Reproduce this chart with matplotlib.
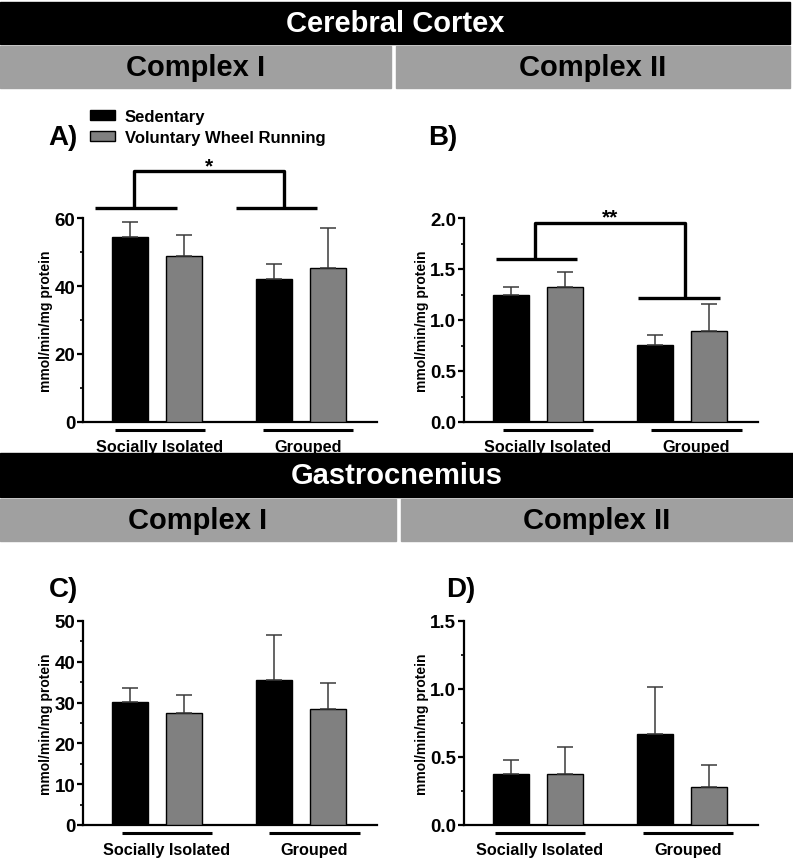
import matplotlib
matplotlib.use("Agg")
import matplotlib.pyplot as plt
from matplotlib.patches import Rectangle, Patch
from matplotlib.ticker import AutoMinorLocator, FormatStrFormatter

plt.rcParams['font.family'] = ['Liberation Sans', 'DejaVu Sans']
plt.rcParams['font.weight'] = 'bold'

groups = ['Socially Isolated', 'Grouped']
series = ['Sedentary', 'Voluntary Wheel Running']

# means and upper SD for each panel: [Isolated, Grouped]
a_sed = [54.4, 42.0]
a_run = [48.8, 45.2]
a_sed_err = [4.5, 4.6]
a_run_err = [6.3, 11.8]

b_sed = [1.25, 0.755]
b_run = [1.32, 0.889]
b_sed_err = [0.075, 0.10]
b_run_err = [0.154, 0.265]

c_sed = [30.2, 35.6]
c_run = [27.4, 28.4]
c_sed_err = [3.5, 11.0]
c_run_err = [4.5, 6.3]

d_sed = [0.375, 0.667]
d_run = [0.378, 0.279]
d_sed_err = [0.103, 0.348]
d_run_err = [0.196, 0.160]

W, H = 793, 862
fig = plt.figure(figsize=(W / 100, H / 100), dpi=100)


def fx(x):
    return x / W


def fy(y):
    return 1 - y / H


def band(x0, x1, y0, y1, color, text, tcolor):
    fig.patches.append(Rectangle((fx(x0), fy(y1)), fx(x1 - x0), (y1 - y0) / H,
                                 transform=fig.transFigure, color=color, zorder=0))
    fig.text(fx((x0 + x1) / 2), fy((y0 + y1) / 2), text, color=tcolor,
             fontsize=21, fontweight='bold', ha='center', va='center')


band(0, 790, 3, 45, 'black', 'Cerebral Cortex', 'white')
band(0, 391, 47, 89, '#a0a0a0', 'Complex I', 'black')
band(396, 790, 47, 89, '#a0a0a0', 'Complex II', 'black')
band(0, 793, 454, 498, 'black', 'Gastrocnemius', 'white')
band(0, 396, 500, 542, '#a0a0a0', 'Complex I', 'black')
band(401, 793, 500, 542, '#a0a0a0', 'Complex II', 'black')

xpos_sed = [0, 4.0]
xpos_run = [1.5, 5.5]


def panel(left, bottom, top, sed, run, sed_err, run_err, ymax, major, lines, letter, lpos):
    ax = fig.add_axes([fx(left), fy(bottom), fx(294), (bottom - top) / H])
    ekw = dict(ecolor='#3a3a3a', elinewidth=1.1, capsize=6, capthick=1.1)
    ax.bar(xpos_sed, sed, width=1, color='black', edgecolor='black', linewidth=1,
           yerr=[[0, 0], sed_err], error_kw=ekw, zorder=3)
    ax.bar(xpos_run, run, width=1, color='#808080', edgecolor='black', linewidth=1,
           yerr=[[0, 0], run_err], error_kw=ekw, zorder=3)
    ax.set_xlim(-1.3, 6.86)
    ax.set_ylim(0, ymax)
    ax.set_yticks([i * major for i in range(int(round(ymax / major)) + 1)])
    ax.yaxis.set_minor_locator(AutoMinorLocator(2))
    for s in ['top', 'right']:
        ax.spines[s].set_visible(False)
    for s in ['left', 'bottom']:
        ax.spines[s].set_linewidth(1.6)
    ax.set_xticks([])
    ax.tick_params(axis='y', which='major', length=4, width=1.6, labelsize=13.5, pad=1.5)
    ax.tick_params(axis='y', which='minor', length=2.5, width=1.2)
    ax.set_ylabel('mmol/min/mg protein', fontsize=10, fontweight='bold', labelpad=1)
    trans = ax.get_xaxis_transform()
    for (x0, x1), name in zip(lines, groups):
        ax.plot([x0, x1], [-0.039, -0.039], color='black', lw=2.2, transform=trans,
                clip_on=False, solid_capstyle='butt')
        ax.text((x0 + x1) / 2, -0.12, name, transform=trans, ha='center', va='center',
                fontsize=11.7, fontweight='bold')
    fig.text(fx(lpos[0]), fy(lpos[1]), letter, fontsize=20, fontweight='bold',
             ha='center', va='center')
    return ax


def bracket(ax, left_span, right_span, y_left, y_right, x_left, x_right, y_top, stars):
    kw = dict(color='black', lw=2.4, clip_on=False, solid_capstyle='butt')
    ax.plot(left_span, [y_left, y_left], **kw)
    ax.plot(right_span, [y_right, y_right], **kw)
    ax.plot([x_left, x_left, x_right, x_right], [y_left, y_top, y_top, y_right], **kw)
    ax.annotate(stars, ((x_left + x_right) / 2, y_top), xytext=(0, -3),
                textcoords='offset points', ha='center', va='bottom',
                fontsize=15, fontweight='bold', annotation_clip=False)


axA = panel(83, 423, 219, a_sed, a_run, a_sed_err, a_run_err, 60, 20,
            [(-0.42, 2.08), (3.69, 6.19)], 'A)', (63, 138))
bracket(axA, [-0.97, 1.31], [2.94, 5.19], 63, 63, 0.11, 4.28, 73.8, '*')

axB = panel(464, 423, 219, b_sed, b_run, b_sed_err, b_run_err, 2.0, 0.5,
            [(-0.22, 2.28), (3.89, 6.42)], 'B)', (443, 138))
axB.yaxis.set_major_formatter(FormatStrFormatter('%.1f'))
bracket(axB, [-0.42, 1.83], [3.53, 5.8], 1.595, 1.219, 0.67, 4.83, 1.954, '**')

axC = panel(83, 826, 622, c_sed, c_run, c_sed_err, c_run_err, 50, 10,
            [(-0.22, 2.28), (3.86, 6.39)], 'C)', (64, 590))

axD = panel(464, 826, 622, d_sed, d_run, d_sed_err, d_run_err, 1.5, 0.5,
            [(-0.44, 2.06), (3.67, 6.17)], 'D)', (461, 590))
axD.yaxis.set_major_formatter(FormatStrFormatter('%.1f'))

handles = [Patch(facecolor='black', edgecolor='black'),
           Patch(facecolor='#808080', edgecolor='black')]
fig.legend(handles, series, loc='upper left', bbox_to_anchor=(fx(90), fy(110)),
           frameon=False, prop={'weight': 'bold', 'size': 12},
           handlelength=1.5, handleheight=0.55, handletextpad=0.6,
           labelspacing=0.35, borderpad=0, borderaxespad=0)

fig.savefig('out.png', dpi=100)
